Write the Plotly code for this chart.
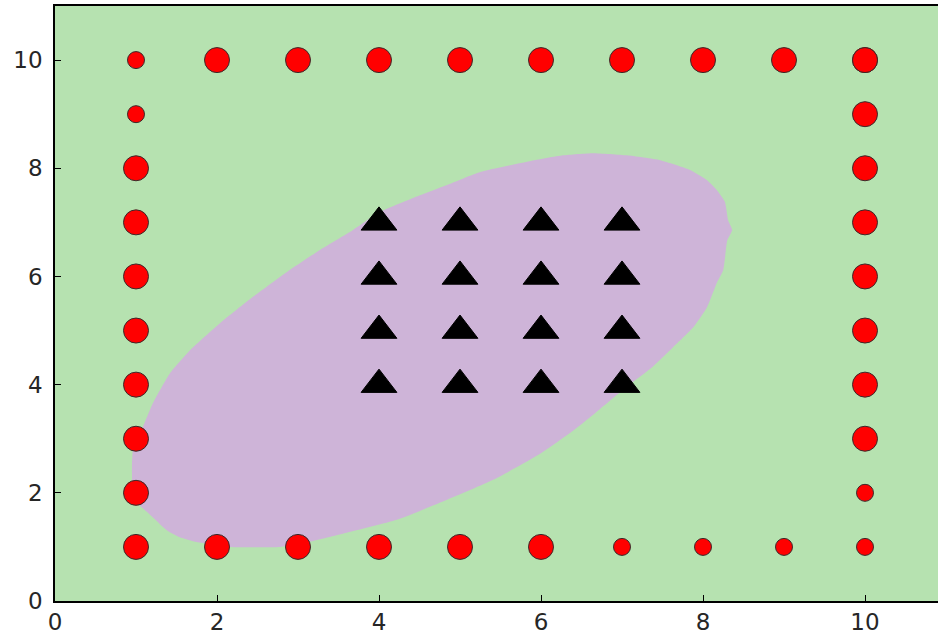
import plotly.graph_objects as go

# Class A points (red circles): large markers are support vectors, small ones are not
big_x = [2, 3, 4, 5, 6, 7, 8, 9, 10,  1, 1, 1, 1, 1, 1, 1, 1,  10, 10, 10, 10, 10, 10, 10, 10,  2, 3, 4, 5, 6]
big_y = [10, 10, 10, 10, 10, 10, 10, 10, 10,  8, 7, 6, 5, 4, 3, 2, 1,  10, 9, 8, 7, 6, 5, 4, 3,  1, 1, 1, 1, 1]
small_x = [1, 1, 10, 10, 7, 8, 9]
small_y = [10, 9, 2, 1, 1, 1, 1]

# Class B points (black triangles)
tri_x = [4, 5, 6, 7] * 4
tri_y = [7] * 4 + [6] * 4 + [5] * 4 + [4] * 4

# Decision region boundary for class B
region_x = [0.97, 0.95, 0.96, 1.00, 1.08, 1.17, 1.38, 1.54, 1.75, 2.16, 2.78, 3.19, 3.60, 4.22,
            4.84, 5.41, 5.99, 6.40, 6.73, 7.06, 7.38, 7.63, 7.88, 8.05, 8.17, 8.25, 8.30, 8.36,
            8.31, 8.27, 8.17, 8.05, 7.84, 7.47, 7.06, 6.64, 6.27, 5.86, 5.25, 4.84, 4.42, 4.01,
            3.68, 3.27, 2.86, 2.44, 2.04, 1.67, 1.42, 1.21, 1.05, 0.97]
region_y = [2.90, 2.50, 2.00, 1.82, 1.72, 1.60, 1.31, 1.18, 1.09, 1.00, 1.00, 1.11, 1.26, 1.50,
            1.87, 2.24, 2.72, 3.15, 3.55, 3.96, 4.33, 4.69, 5.06, 5.43, 5.88, 6.12, 6.67, 6.86,
            7.04, 7.38, 7.60, 7.78, 7.97, 8.15, 8.24, 8.28, 8.24, 8.13, 7.93, 7.69, 7.45, 7.19,
            6.86, 6.49, 6.08, 5.62, 5.14, 4.64, 4.21, 3.66, 3.10, 2.90]

x_ticks = [0, 2, 4, 6, 8, 10]
y_ticks = [0, 2, 4, 6, 8, 10]

GREEN = "#b6e2b0"
PURPLE = "#ceb4d8"

fig = go.Figure()

fig.add_trace(go.Scatter(
    x=region_x, y=region_y, mode="lines", fill="toself",
    fillcolor=PURPLE, line=dict(width=0, color=PURPLE, shape="spline", smoothing=0.5),
    hoverinfo="skip", showlegend=False,
))

fig.add_trace(go.Scatter(
    x=big_x, y=big_y, mode="markers", showlegend=False,
    marker=dict(symbol="circle", size=25, color="#ff0000", line=dict(color="#3a2a2a", width=1)),
))
fig.add_trace(go.Scatter(
    x=small_x, y=small_y, mode="markers", showlegend=False,
    marker=dict(symbol="circle", size=17, color="#ff0000", line=dict(color="#3a2a2a", width=1)),
))
fig.add_trace(go.Scatter(
    x=tri_x, y=tri_y, mode="markers", showlegend=False,
    marker=dict(symbol="triangle-up", size=31, color="#000000", line=dict(color="#000000", width=1)),
))

axis_font = dict(family="DejaVu Sans", size=23, color="#262626")

fig.update_xaxes(
    range=[0, 883 / 81], tickvals=x_ticks, ticktext=[str(v) for v in x_ticks],
    showgrid=False, zeroline=False, showline=True, linecolor="#000000", linewidth=1.5,
    mirror=True, ticks="inside", ticklen=6, tickwidth=1, tickcolor="#000000",
    tickfont=axis_font,
)
fig.update_yaxes(
    range=[0, 11], tickvals=y_ticks, ticktext=[str(v) for v in y_ticks],
    showgrid=False, zeroline=False, showline=True, linecolor="#000000", linewidth=1.5,
    mirror=False, ticks="inside", ticklen=6, tickwidth=1, tickcolor="#000000",
    tickfont=axis_font, ticklabelstandoff=6,
)

fig.update_layout(
    width=938, height=637,
    margin=dict(l=55, r=0, t=6, b=36),
    plot_bgcolor=GREEN, paper_bgcolor="#ffffff",
)

fig.write_html("out.html")
